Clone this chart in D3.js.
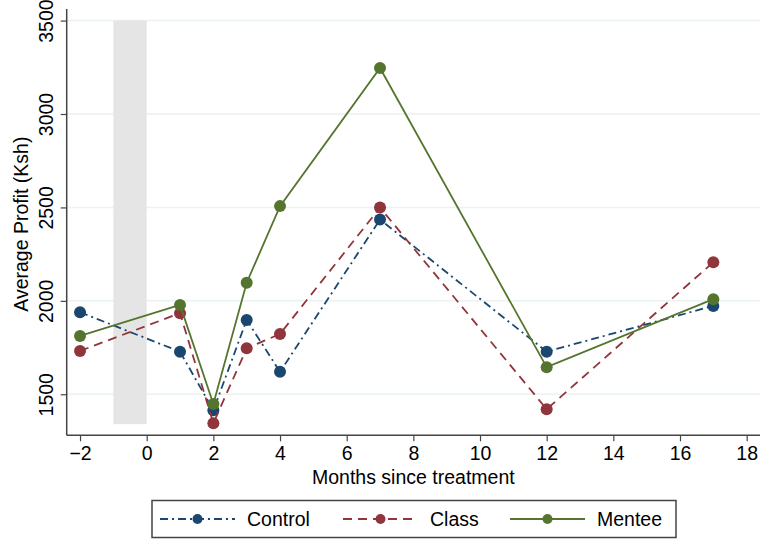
<!DOCTYPE html>
<html><head><meta charset="utf-8">
<script src="https://cdn.jsdelivr.net/npm/d3@7"></script>
<style>body{margin:0;background:#fff}svg{display:block}text{font-family:"Liberation Sans",Arial,sans-serif}</style>
</head><body><svg id="c" width="761" height="543"></svg>
<script>
const months = [-2, 1, 2, 3, 4, 7, 12, 17];
const control = [1939, 1728, 1414, 1898, 1620, 2435, 1728, 1973];
const classG  = [1732, 1934, 1345, 1746, 1823, 2499, 1420, 2207];
const mentee  = [1812, 1978, 1448, 2097, 2507, 3246, 1645, 2009];
const seriesNames = ["Control", "Class", "Mentee"];
const seriesColors = ["#1a476f", "#90353b", "#55752f"];
const seriesDash = ["8,4,2,4", "9,6", null];
const xTicks = [-2, 0, 2, 4, 6, 8, 10, 12, 14, 16, 18];
const yTicks = [1500, 2000, 2500, 3000, 3500];
const band = {x0: -1, x1: 0, y0: 1340, y1: 3500};

const FS = 19.5;
const svg = d3.select("#c");
const L = 66.7, R = 760, T = 9, B = 435.3;
const x = d3.scaleLinear().domain([-2.4, 18.4]).range([L, R]);
const y = d3.scaleLinear().domain([1280.4, 3562]).range([B, T]);

// grid
svg.append("g").selectAll("line").data(yTicks).join("line")
  .attr("x1", L).attr("x2", R).attr("y1", d => y(d)).attr("y2", d => y(d))
  .attr("stroke", "#eaf2f3").attr("stroke-width", 1.5);

// shaded band
svg.append("rect").attr("x", x(band.x0)).attr("width", x(band.x1) - x(band.x0))
  .attr("y", y(band.y1)).attr("height", y(band.y0) - y(band.y1)).attr("fill", "#e5e5e5");

// axes
const xAxis = svg.append("g").attr("transform", `translate(0,${B})`)
  .call(d3.axisBottom(x).tickValues(xTicks).tickSize(6).tickPadding(5).tickFormat(d => d < 0 ? "\u2212" + Math.abs(d) : d));
xAxis.select(".domain").attr("stroke", "#444").attr("stroke-width", 1.5).attr("d", `M${L},0H${R}`);
xAxis.selectAll(".tick line").attr("stroke", "#444").attr("stroke-width", 1.2);
xAxis.selectAll("text").attr("font-size", FS).attr("fill", "#000");

const yAxis = svg.append("g").attr("transform", `translate(${L},0)`)
  .call(d3.axisLeft(y).tickValues(yTicks).tickSize(6).tickFormat(d3.format("d")));
yAxis.select(".domain").attr("stroke", "#444").attr("stroke-width", 1.5).attr("d", `M0,${T}V${B}`);
yAxis.selectAll(".tick line").attr("stroke", "#444").attr("stroke-width", 1.2);
yAxis.selectAll("text").attr("font-size", FS).attr("fill", "#000")
  .attr("x", null).attr("dy", null)
  .attr("transform", "translate(-14,0) rotate(-90)").attr("text-anchor", "middle");

// axis titles
svg.append("text").attr("x", x(8)).attr("y", 484).attr("text-anchor", "middle")
  .attr("font-size", FS).text("Months since treatment");
svg.append("text").attr("transform", `translate(27.5,${(T + B) / 2 + 2}) rotate(-90)`)
  .attr("text-anchor", "middle").attr("font-size", FS).text("Average Profit (Ksh)");

// series
const allSeries = [control, classG, mentee];
const line = d3.line().x((d, i) => x(months[i])).y(d => y(d));
allSeries.forEach((vals, s) => {
  const g = svg.append("g");
  g.append("path").datum(vals).attr("d", line).attr("fill", "none")
    .attr("stroke", seriesColors[s]).attr("stroke-width", 1.8)
    .attr("stroke-dasharray", seriesDash[s]);
  g.selectAll("circle").data(vals).join("circle")
    .attr("cx", (d, i) => x(months[i])).attr("cy", d => y(d)).attr("r", 6)
    .attr("fill", seriesColors[s]);
});

// legend
const lg = svg.append("g");
lg.append("rect").attr("x", 152).attr("y", 500.5).attr("width", 524).attr("height", 37)
  .attr("fill", "#fff").attr("stroke", "#444").attr("stroke-width", 1.5);
const lx = [160, 343, 510], tx = [247, 430, 597];
seriesNames.forEach((n, s) => {
  lg.append("line").attr("x1", lx[s]).attr("x2", lx[s] + 75).attr("y1", 519).attr("y2", 519)
    .attr("stroke", seriesColors[s]).attr("stroke-width", 1.8).attr("stroke-dasharray", seriesDash[s]);
  lg.append("circle").attr("cx", lx[s] + 37.5).attr("cy", 519).attr("r", 5).attr("fill", seriesColors[s]);
  lg.append("text").attr("x", tx[s]).attr("y", 526).attr("font-size", FS).text(n);
});
</script></body></html>
